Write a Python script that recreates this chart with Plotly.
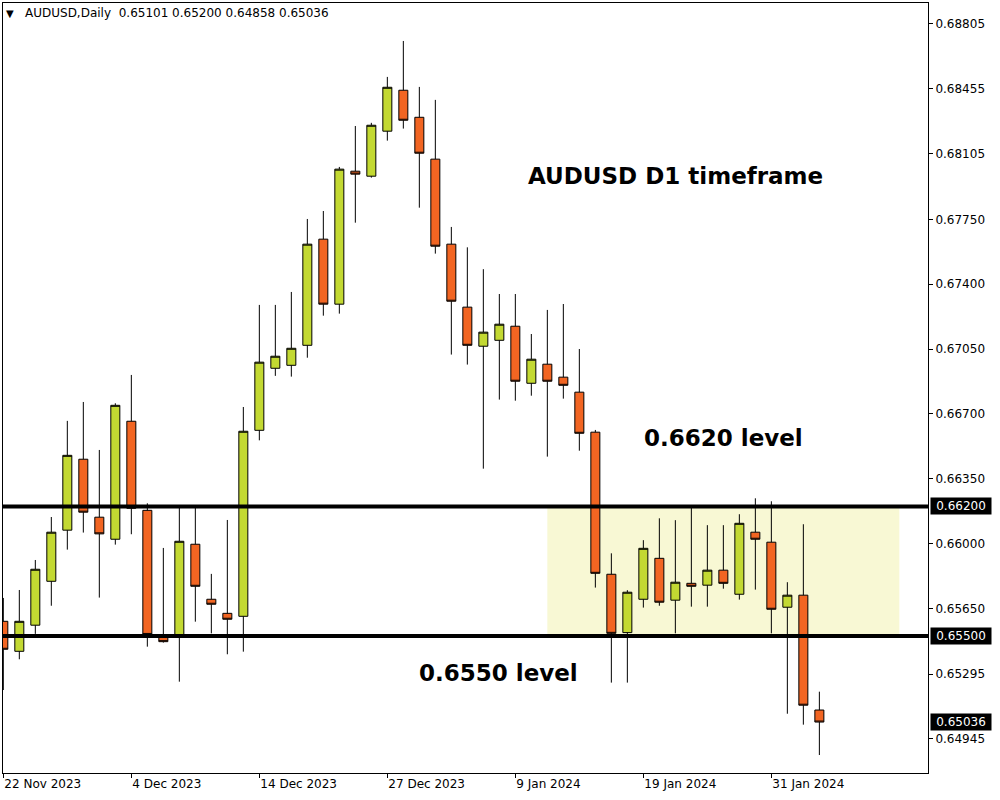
import plotly.graph_objects as go

dates = ["22 Nov 2023", "23 Nov 2023", "24 Nov 2023", "27 Nov 2023", "28 Nov 2023", "29 Nov 2023",
         "30 Nov 2023", "1 Dec 2023", "4 Dec 2023", "5 Dec 2023", "6 Dec 2023", "7 Dec 2023",
         "8 Dec 2023", "11 Dec 2023", "12 Dec 2023", "13 Dec 2023", "14 Dec 2023", "15 Dec 2023",
         "18 Dec 2023", "19 Dec 2023", "20 Dec 2023", "21 Dec 2023", "22 Dec 2023", "26 Dec 2023",
         "27 Dec 2023", "28 Dec 2023", "29 Dec 2023", "2 Jan 2024", "3 Jan 2024", "4 Jan 2024",
         "5 Jan 2024", "8 Jan 2024", "9 Jan 2024", "10 Jan 2024", "11 Jan 2024", "12 Jan 2024",
         "15 Jan 2024", "16 Jan 2024", "17 Jan 2024", "18 Jan 2024", "19 Jan 2024", "22 Jan 2024",
         "23 Jan 2024", "24 Jan 2024", "25 Jan 2024", "26 Jan 2024", "29 Jan 2024", "30 Jan 2024",
         "31 Jan 2024", "1 Feb 2024", "2 Feb 2024", "5 Feb 2024"]

opens = [0.65580, 0.65418, 0.65559, 0.65796, 0.66072, 0.66455, 0.66142, 0.66023, 0.66660, 0.66179,
         0.65497, 0.65505, 0.65996, 0.65699, 0.65623, 0.65607, 0.66611, 0.66946, 0.66962, 0.67070,
         0.67643, 0.67292, 0.68010, 0.67983, 0.68226, 0.68447, 0.68301, 0.68075, 0.67616, 0.67276,
         0.67065, 0.67097, 0.67173, 0.66865, 0.66968, 0.66898, 0.66817, 0.66601, 0.65834, 0.65519,
         0.65699, 0.65920, 0.65694, 0.65785, 0.65775, 0.65856, 0.65726, 0.66061, 0.66007, 0.65656,
         0.65721, 0.65101]
highs = [0.65706, 0.65749, 0.65911, 0.66143, 0.66662, 0.66764, 0.66505, 0.66757, 0.66910, 0.66217,
         0.65976, 0.66194, 0.66194, 0.65836, 0.66127, 0.66737, 0.67288, 0.67288, 0.67358, 0.67752,
         0.67795, 0.68033, 0.68254, 0.68271, 0.68519, 0.68713, 0.68465, 0.68395, 0.67709, 0.67599,
         0.67481, 0.67347, 0.67347, 0.67131, 0.67261, 0.67293, 0.67050, 0.66613, 0.65947, 0.65748,
         0.66018, 0.66136, 0.66126, 0.66196, 0.66099, 0.66099, 0.66158, 0.66244, 0.66228, 0.65791,
         0.66104, 0.65200]
lows = [0.65209, 0.65375, 0.65512, 0.65664, 0.65967, 0.66059, 0.65708, 0.65994, 0.66050, 0.65443,
        0.65465, 0.65254, 0.65578, 0.65515, 0.65402, 0.65416, 0.66557, 0.66905, 0.66901, 0.67003,
        0.67230, 0.67241, 0.67732, 0.67975, 0.68175, 0.68240, 0.67813, 0.67565, 0.67020, 0.66966,
        0.66404, 0.66777, 0.66771, 0.66798, 0.66469, 0.66782, 0.66501, 0.65762, 0.65249, 0.65249,
        0.65654, 0.65664, 0.65515, 0.65659, 0.65659, 0.65756, 0.65697, 0.65751, 0.65515, 0.65081,
        0.65022, 0.64858]
closes = [0.65429, 0.65580, 0.65861, 0.66061, 0.66476, 0.66169, 0.66052, 0.66746, 0.66190, 0.65509,
          0.65470, 0.66012, 0.65769, 0.65672, 0.65591, 0.66606, 0.66979, 0.67011, 0.67054, 0.67616,
          0.67292, 0.68021, 0.67994, 0.68258, 0.68463, 0.68285, 0.68107, 0.67605, 0.67308, 0.67070,
          0.67141, 0.67184, 0.66876, 0.66995, 0.66876, 0.66854, 0.66595, 0.65839, 0.65515, 0.65737,
          0.65974, 0.65683, 0.65791, 0.65769, 0.65856, 0.65785, 0.66109, 0.66023, 0.65645, 0.65721,
          0.65127, 0.65036]

tick_dates = ["22 Nov 2023", "4 Dec 2023", "14 Dec 2023", "27 Dec 2023", "9 Jan 2024", "19 Jan 2024", "31 Jan 2024"]
price_ticks = [0.68805, 0.68455, 0.68105, 0.67750, 0.67400, 0.67050, 0.66700, 0.66350, 0.66000,
               0.65650, 0.65295, 0.64945]
levels = [0.66200, 0.65500]
zone_x = [34, 56]
zone_y = [0.65500, 0.66200]

GREEN = "#C3D932"
ORANGE = "#F26522"
FONT = "DejaVu Sans"

xs = list(range(len(dates)))
tick_idx = [dates.index(d) for d in tick_dates]

fig = go.Figure()

fig.add_shape(type="rect", xref="x", yref="y", x0=zone_x[0], x1=zone_x[1], y0=zone_y[0], y1=zone_y[1],
              fillcolor="#F8F8D4", line=dict(width=0), layer="below")

fig.add_trace(go.Candlestick(
    x=xs, open=opens, high=highs, low=lows, close=closes,
    increasing=dict(fillcolor=GREEN, line=dict(color="black", width=1)),
    decreasing=dict(fillcolor=ORANGE, line=dict(color="black", width=1)),
    whiskerwidth=0, showlegend=False, hoverinfo="skip",
))

for lv in levels:
    fig.add_shape(type="line", xref="paper", yref="y", x0=0, x1=1, y0=lv, y1=lv,
                  line=dict(color="black", width=4), layer="above")

# highlighted price labels on the right axis
for val in levels + [closes[-1]]:
    fig.add_annotation(xref="paper", yref="y", x=1, y=val, xanchor="left", yanchor="middle",
                       xshift=2, text=f"{val:.5f}", showarrow=False, bgcolor="black",
                       font=dict(family=FONT, size=12, color="white"), borderpad=1,
                       width=58, height=14, align="center")

# header
fig.add_annotation(xref="paper", yref="paper", x=0, y=1, xanchor="left", yanchor="middle",
                   xshift=1, yshift=-10, text="▼", showarrow=False,
                   font=dict(family=FONT, size=10, color="black"))
fig.add_annotation(xref="paper", yref="paper", x=0, y=1, xanchor="left", yanchor="middle",
                   xshift=20, yshift=-10,
                   text=f"AUDUSD,Daily\u00a0\u00a0{opens[-1]:.5f} {highs[-1]:.5f} {lows[-1]:.5f} {closes[-1]:.5f}",
                   showarrow=False, font=dict(family=FONT, size=12, color="black"))

for txt, px, py in [("AUDUSD D1 timeframe", 0.7265, 0.7753),
                    ("0.6620 level", 0.7789, 0.4351),
                    ("0.6550 level", 0.5362, 0.1299)]:
    fig.add_annotation(xref="paper", yref="paper", x=px, y=py, xanchor="center", yanchor="middle",
                       text=f"<b>{txt}</b>", showarrow=False,
                       font=dict(family=FONT, size=23, color="black"))

fig.update_layout(
    width=1000, height=800,
    margin=dict(l=3, r=72, t=3, b=27),
    paper_bgcolor="white", plot_bgcolor="white",
    boxgap=0.4375, boxgroupgap=0,
    font=dict(family=FONT, size=12, color="black"),
    xaxis=dict(range=[-0.02, 57.79], tickvals=tick_idx, ticktext=tick_dates,
               ticklabelposition="outside right", ticks="outside", ticklen=4, tickcolor="black",
               showline=True, linecolor="black", linewidth=1, mirror=True,
               showgrid=False, zeroline=False, rangeslider=dict(visible=False),
               tickfont=dict(family=FONT, size=12, color="black")),
    yaxis=dict(side="right", range=[0.64761, 0.68918], tickvals=price_ticks, tickformat=".5f",
               ticks="outside", ticklen=4, tickcolor="black",
               showline=True, linecolor="black", linewidth=1, mirror=True,
               showgrid=False, zeroline=False,
               tickfont=dict(family=FONT, size=12, color="black")),
)

fig.write_html("out.html", config={"displayModeBar": False},
               post_script="document.body.style.margin='0';")
